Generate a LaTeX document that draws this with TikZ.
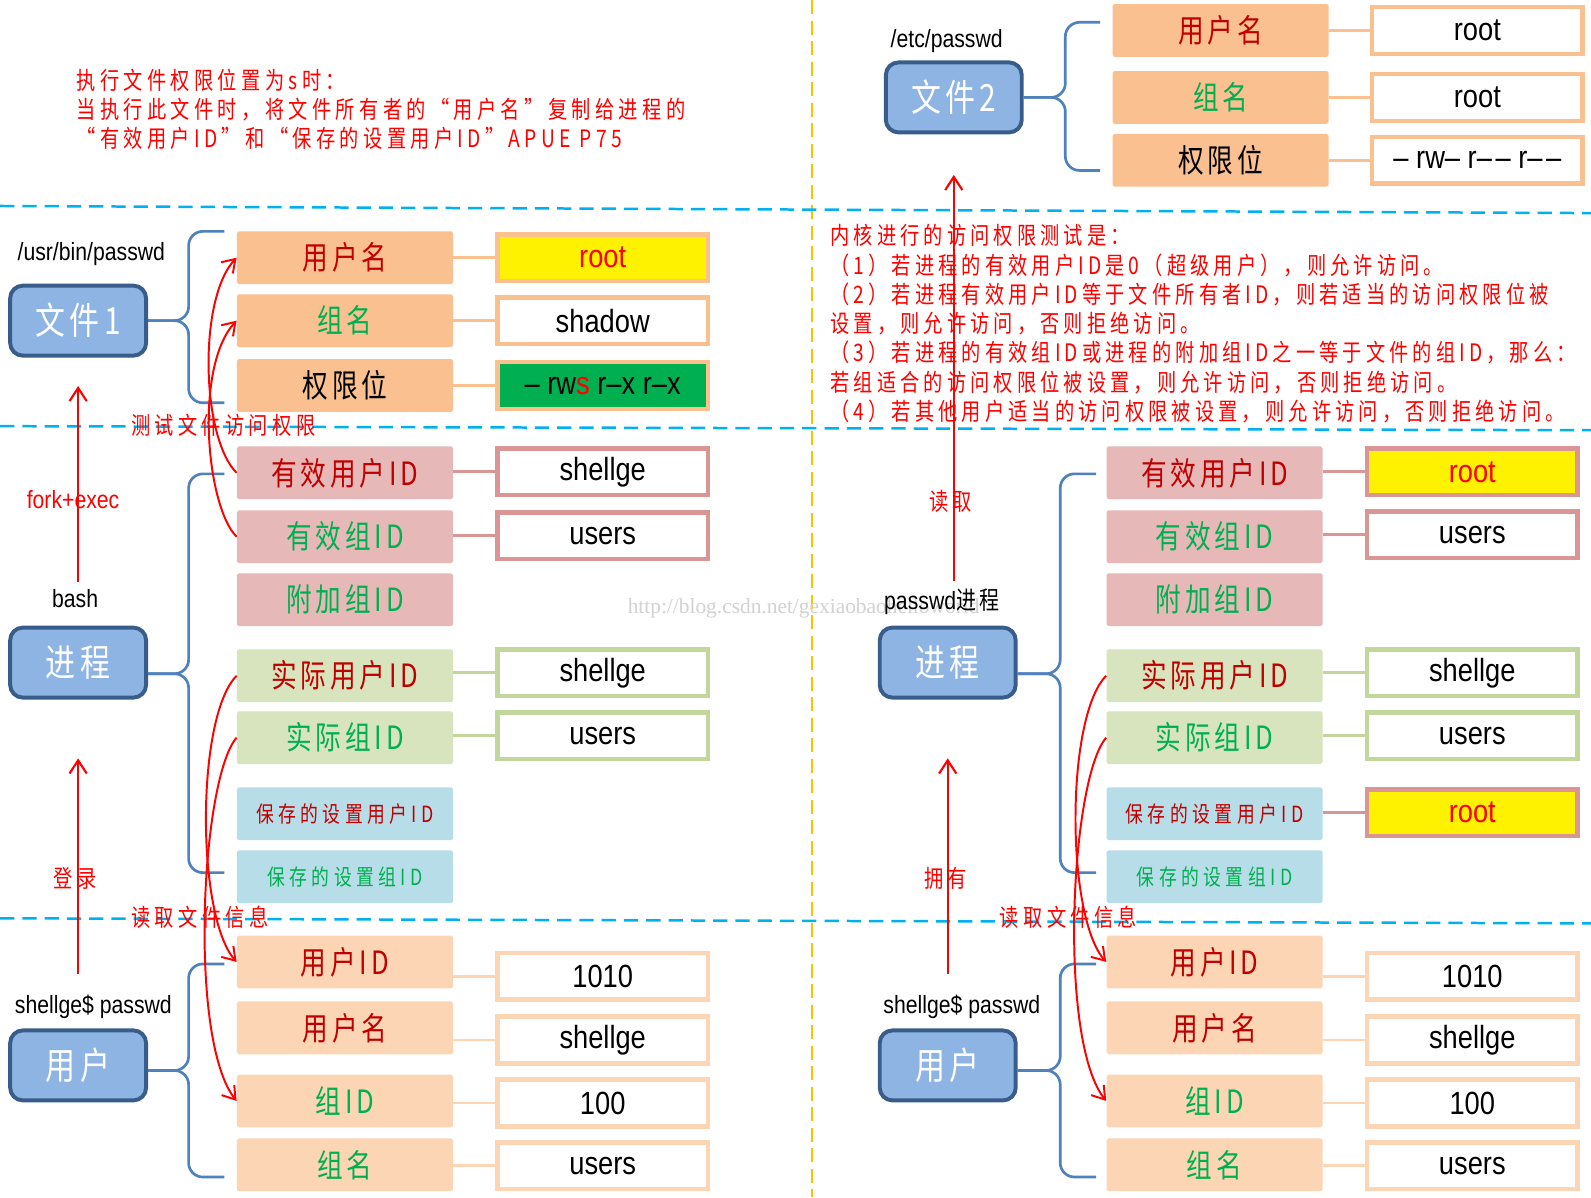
\documentclass[tikz,border=0pt]{standalone}
\usepackage{fontspec}
\setmainfont{Liberation Sans}[FakeStretch=0.85]
\newfontfamily\cjk{Noto Sans CJK SC}[FakeStretch=0.8, LetterSpace=12]
\newfontfamily\wmfont{Liberation Serif}
\usepackage{tikz}
\usetikzlibrary{arrows.meta, calc}
\usepackage{xcolor}

\definecolor{hubfill}{HTML}{8EB4E3}
\definecolor{hubline}{HTML}{385D8A}
\definecolor{braceblue}{HTML}{4F81BD}
\definecolor{orangef}{HTML}{FAC090}
\definecolor{pinkf}{HTML}{E6B9B8}
\definecolor{pinkline}{HTML}{D99694}
\definecolor{greenf}{HTML}{D7E4BD}
\definecolor{greenline}{HTML}{C3D69B}
\definecolor{bluef}{HTML}{B7DEE8}
\definecolor{peachf}{HTML}{FCD5B5}
\definecolor{darkred}{HTML}{C00000}
\definecolor{okgreen}{HTML}{00B050}
\definecolor{sepblue}{HTML}{00B0F0}
\definecolor{sepyellow}{HTML}{FFC000}

\begin{document}
\begin{tikzpicture}[x=0.02cm, y=0.02cm,
        hub/.style={rectangle, rounded corners=0.25cm, draw=hubline, fill=hubfill, line width=2.2pt, minimum width=2.68cm, minimum height=1.38cm, inner sep=0pt, text=white, font={\cjk\fontsize{21}{24}\selectfont}},
        field/.style={rectangle, rounded corners=1pt, minimum width=4.26cm, minimum height=1.04cm, inner sep=0pt, font={\cjk\fontsize{18}{20}\selectfont}},
        small/.style={font={\cjk\fontsize{12.5}{14}\selectfont\addfontfeature{LetterSpace=20}}},
        val/.style={rectangle, fill=white, line width=2.5pt, minimum width=4.15cm, minimum height=0.92cm, inner sep=0pt, font=\fontsize{18}{20}\selectfont},
        lbl/.style={inner sep=0pt, font=\fontsize{14}{16}\selectfont},
        note/.style={inner sep=0pt, text=red, font={\cjk\fontsize{13.5}{16.3}\selectfont\addfontfeature{LetterSpace=18}}},
        link/.style={line width=1.6pt},
        bracket/.style={draw=braceblue, line width=1.5pt, rounded corners=0.28cm},
        hsep/.style={draw=sepblue, line width=1.4pt, dash pattern=on 8pt off 4.5pt},
        vsep/.style={draw=sepyellow, line width=1.2pt, dash pattern=on 8pt off 3.5pt},
        redarr/.style={draw=red, line width=1.2pt, -{Straight Barb[length=2.6mm,width=3.4mm]}},
        redcurve/.style={draw=red, line width=1.1pt, -{Straight Barb[length=2.4mm,width=3.2mm]}}
    ]
    \useasboundingbox (0,0) rectangle (1568,-1180);
    \fill[white] (0,0) rectangle (1568,-1180);

    % Separadores
    \draw[vsep] (800,0) -- (800,-1180);
    \draw[hsep] (0,-203) -- (1568,-210);
    \draw[hsep] (0,-420) -- (1568,-424);
    \draw[hsep] (0,-905) -- (1568,-910);

    \node[text=gray!35, font=\wmfont\fontsize{12}{14}\selectfont, inner sep=0pt] (wm) at (792,-600) {http://blog.csdn.net/gexiaobaohelloworld};

    % Notas
    \node[note, anchor=north west, align=left] (setuid) at (75,-68) {执行文件权限位置为s时：\\当执行此文件时，将文件所有者的“用户名”复制给进程的\\“有效用户ID”和“保存的设置用户ID”APUE P75};
    \node[note, anchor=north west, align=left, font={\cjk\fontsize{13.5}{16.4}\selectfont\addfontfeature{LetterSpace=17}}] (kernel) at (818,-221) {内核进行的访问权限测试是：\\（1）若进程的有效用户ID是0（超级用户），则允许访问。\\（2）若进程有效用户ID等于文件所有者ID，则若适当的访问权限位被\\设置，则允许访问，否则拒绝访问。\\（3）若进程的有效组ID或进程的附加组ID之一等于文件的组ID，那么：\\若组适合的访问权限位被设置，则允许访问，否则拒绝访问。\\（4）若其他用户适当的访问权限被设置，则允许访问，否则拒绝访问。};

    % Archivo 1
    \node[hub] (file1) at (77,-316) {文件1};
    \node[lbl] (file1lbl) at (90,-250) {/usr/bin/passwd};
    \node[field, fill=orangef, text=darkred] (f1name) at (340,-254) {用户名};
    \node[field, fill=orangef, text=okgreen] (f1group) at (340,-316) {组名};
    \node[field, fill=orangef] (f1perm) at (340,-380) {权限位};
    \node[val, draw=orangef, fill=yellow, text=red] (v1name) at (594,-254) {root};
    \node[val, draw=orangef] (v1group) at (594,-316) {shadow};
    \node[val, draw=orangef, fill=okgreen] (v1perm) at (594,-380) {– rw{\color{red}s} r–x r–x};
    \draw[link, orangef] (v1name.west) -- (v1name.west -| f1name.east);
    \draw[link, orangef] (v1group.west) -- (v1group.west -| f1group.east);
    \draw[link, orangef] (v1perm.west) -- (v1perm.west -| f1perm.east);
    \draw[bracket] (file1.east) -- ++(40,0) |- ($(f1name.west)+(-12,26)$);
    \draw[bracket] (file1.east) -- ++(40,0) |- ($(f1perm.west)+(-12,-17)$);

    % Archivo 2
    \node[hub] (file2) at (940,-96) {文件2};
    \node[lbl] (file2lbl) at (933,-40) {/etc/passwd};
    \node[field, fill=orangef, text=darkred] (f2name) at (1203,-30) {用户名};
    \node[field, fill=orangef, text=okgreen] (f2group) at (1203,-96) {组名};
    \node[field, fill=orangef] (f2perm) at (1203,-158) {权限位};
    \node[val, draw=orangef] (v2name) at (1456,-30) {root};
    \node[val, draw=orangef] (v2group) at (1456,-96) {root};
    \node[val, draw=orangef] (v2perm) at (1456,-158) {– rw– r–\kern2pt– r–\kern2pt–};
    \draw[link, orangef] (v2name.west) -- (v2name.west -| f2name.east);
    \draw[link, orangef] (v2group.west) -- (v2group.west -| f2group.east);
    \draw[link, orangef] (v2perm.west) -- (v2perm.west -| f2perm.east);
    \draw[bracket] (file2.east) -- ++(41,0) |- ($(f2name.west)+(-12,8)$);
    \draw[bracket] (file2.east) -- ++(41,0) |- ($(f2perm.west)+(-12,-10)$);

    % Proceso bash
    \node[hub] (procL) at (77,-653) {进程};
    \node[lbl] (bash) at (74,-590) {bash};
    \node[field, fill=pinkf, text=darkred] (pLeu) at (340,-466) {有效用户ID};
    \node[field, fill=pinkf, text=okgreen] (pLeg) at (340,-529) {有效组ID};
    \node[field, fill=pinkf, text=okgreen] (pLsup) at (340,-591) {附加组ID};
    \node[field, fill=greenf, text=darkred] (pLru) at (340,-666) {实际用户ID};
    \node[field, fill=greenf, text=okgreen] (pLrg) at (340,-727) {实际组ID};
    \node[field, small, fill=bluef, text=darkred] (pLsu) at (340,-802) {保存的设置用户ID};
    \node[field, small, fill=bluef, text=okgreen] (pLsg) at (340,-864) {保存的设置组ID};
    \node[val, draw=pinkline] (vLeu) at (594,-465) {shellge};
    \node[val, draw=pinkline] (vLeg) at (594,-528) {users};
    \node[val, draw=greenline] (vLru) at (594,-663) {shellge};
    \node[val, draw=greenline] (vLrg) at (594,-725) {users};
    \draw[link, pinkline] (vLeu.west) -- (vLeu.west -| pLeu.east);
    \draw[link, pinkline] (vLeg.west) -- (vLeg.west -| pLeg.east);
    \draw[link, greenline] (vLru.west) -- (vLru.west -| pLru.east);
    \draw[link, greenline] (vLrg.west) -- (vLrg.west -| pLrg.east);
    \draw[bracket] ($(procL.east)+(0,-11)$) -- ++(40,0) |- ($(pLeu.west)+(-12,-1)$);
    \draw[bracket] ($(procL.east)+(0,-11)$) -- ++(40,0) |- ($(pLsg.west)+(-12,4)$);

    % Proceso passwd
    \node[hub] (procR) at (934,-653) {进程};
    \node[lbl] (passwdp) at (928,-593) {passwd{\cjk 进程}};
    \node[field, fill=pinkf, text=darkred] (pReu) at (1197,-466) {有效用户ID};
    \node[field, fill=pinkf, text=okgreen] (pReg) at (1197,-529) {有效组ID};
    \node[field, fill=pinkf, text=okgreen] (pRsup) at (1197,-591) {附加组ID};
    \node[field, fill=greenf, text=darkred] (pRru) at (1197,-666) {实际用户ID};
    \node[field, fill=greenf, text=okgreen] (pRrg) at (1197,-727) {实际组ID};
    \node[field, small, fill=bluef, text=darkred] (pRsu) at (1197,-802) {保存的设置用户ID};
    \node[field, small, fill=bluef, text=okgreen] (pRsg) at (1197,-864) {保存的设置组ID};
    \node[val, draw=pinkline, fill=yellow, text=red] (vReu) at (1451,-465) {root};
    \node[val, draw=pinkline] (vReg) at (1451,-527) {users};
    \node[val, draw=greenline] (vRru) at (1451,-663) {shellge};
    \node[val, draw=greenline] (vRrg) at (1451,-725) {users};
    \node[val, draw=pinkline, fill=yellow, text=red] (vRsu) at (1451,-801) {root};
    \draw[link, pinkline] (vReu.west) -- (vReu.west -| pReu.east);
    \draw[link, pinkline] (vReg.west) -- (vReg.west -| pReg.east);
    \draw[link, greenline] (vRru.west) -- (vRru.west -| pRru.east);
    \draw[link, greenline] (vRrg.west) -- (vRrg.west -| pRrg.east);
    \draw[link, pinkline] (vRsu.west) -- (vRsu.west -| pRsu.east);
    \draw[bracket] ($(procR.east)+(0,-11)$) -- ++(42,0) |- ($(pReu.west)+(-10,-1)$);
    \draw[bracket] ($(procR.east)+(0,-11)$) -- ++(42,0) |- ($(pRsg.west)+(-10,4)$);

    % Usuario (izquierda)
    \node[hub] (userL) at (77,-1050) {用户};
    \node[lbl] (ulblL) at (92,-992) {shellge\$ passwd};
    \node[field, fill=peachf, text=darkred] (uLid) at (340,-948) {用户ID};
    \node[field, fill=peachf, text=darkred] (uLname) at (340,-1013) {用户名};
    \node[field, fill=peachf, text=okgreen] (uLgid) at (340,-1085) {组ID};
    \node[field, fill=peachf, text=okgreen] (uLgname) at (340,-1148) {组名};
    \node[val, draw=peachf] (vLid) at (594,-962) {1010};
    \node[val, draw=peachf] (vLname) at (594,-1025) {shellge};
    \node[val, draw=peachf] (vLgid) at (594,-1087) {100};
    \node[val, draw=peachf] (vLgname) at (594,-1149) {users};
    \draw[link, peachf] (vLid.west) -- (vLid.west -| uLid.east);
    \draw[link, peachf] (vLname.west) -- (vLname.west -| uLname.east);
    \draw[link, peachf] (vLgid.west) -- (vLgid.west -| uLgid.east);
    \draw[link, peachf] (vLgname.west) -- (vLgname.west -| uLgname.east);
    \draw[bracket] ($(userL.east)+(0,-5)$) -- ++(40,0) |- ($(uLid.west)+(-12,-2)$);
    \draw[bracket] ($(userL.east)+(0,-5)$) -- ++(40,0) |- ($(uLgname.west)+(-12,-12)$);

    % Usuario (derecha)
    \node[hub] (userR) at (934,-1050) {用户};
    \node[lbl] (ulblR) at (948,-992) {shellge\$ passwd};
    \node[field, fill=peachf, text=darkred] (uRid) at (1197,-948) {用户ID};
    \node[field, fill=peachf, text=darkred] (uRname) at (1197,-1013) {用户名};
    \node[field, fill=peachf, text=okgreen] (uRgid) at (1197,-1085) {组ID};
    \node[field, fill=peachf, text=okgreen] (uRgname) at (1197,-1148) {组名};
    \node[val, draw=peachf] (vRid) at (1451,-962) {1010};
    \node[val, draw=peachf] (vRname) at (1451,-1025) {shellge};
    \node[val, draw=peachf] (vRgid) at (1451,-1087) {100};
    \node[val, draw=peachf] (vRgname) at (1451,-1149) {users};
    \draw[link, peachf] (vRid.west) -- (vRid.west -| uRid.east);
    \draw[link, peachf] (vRname.west) -- (vRname.west -| uRname.east);
    \draw[link, peachf] (vRgid.west) -- (vRgid.west -| uRgid.east);
    \draw[link, peachf] (vRgname.west) -- (vRgname.west -| uRgname.east);
    \draw[bracket] ($(userR.east)+(0,-5)$) -- ++(42,0) |- ($(uRid.west)+(-10,-2)$);
    \draw[bracket] ($(userR.east)+(0,-5)$) -- ++(42,0) |- ($(uRgname.west)+(-10,-12)$);

    % Flechas rojas verticales
    \draw[redarr, shorten <=4pt, shorten >=0.56cm] (file1.south |- bash.north) -- (file1.south);
    \draw[redarr, shorten <=0.4cm, shorten >=1.16cm] (procL.south |- ulblL.north) -- (procL.south);
    \draw[redarr, shorten <=4pt, shorten >=0.8cm] (file2.south |- passwdp.north) -- (file2.south);
    \draw[redarr, shorten <=0.4cm, shorten >=1.16cm] (procR.south |- ulblR.north) -- (procR.south);
    \node[lbl, text=red] (forkexec) at (72,-492) {fork+exec};
    \node[note] (login) at (74,-866) {登录};
    \node[note] (readp) at (937,-494) {读取};
    \node[note] (own) at (932,-866) {拥有};

    % Curvas rojas
    \draw[redcurve] (pLeu.west) .. controls +(-35,35) and +(-38,-40) .. (f1name.west);
    \draw[redcurve] (pLeg.west) .. controls +(-30,30) and +(-42,-45) .. (f1group.west);
    \draw[redcurve] (pLru.west) .. controls +(-40,-40) and +(-40,45) .. (uLid.west);
    \draw[redcurve] (pLrg.west) .. controls +(-35,-40) and +(-48,60) .. (uLgid.west);
    \draw[redcurve] (pRru.west) .. controls +(-40,-40) and +(-40,45) .. (uRid.west);
    \draw[redcurve] (pRrg.west) .. controls +(-35,-40) and +(-48,60) .. (uRgid.west);
    \node[note] (testacc) at (220,-419) {测试文件访问权限};
    \node[note] (readL) at (197,-904) {读取文件信息};
    \node[note] (readR) at (1053,-904) {读取文件信息};
\end{tikzpicture}
\end{document}
